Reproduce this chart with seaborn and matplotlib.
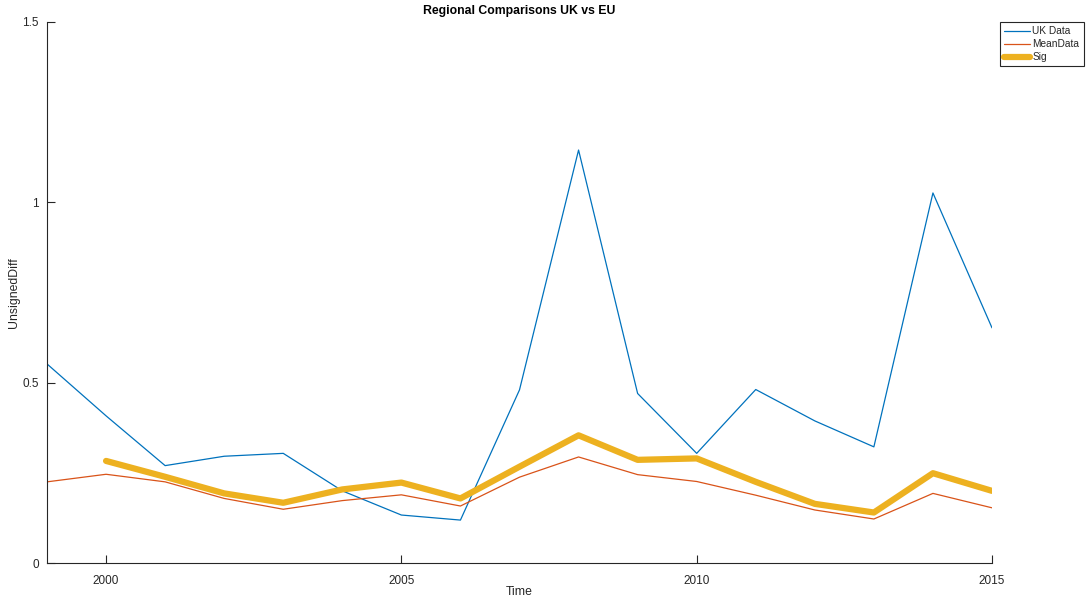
import matplotlib
matplotlib.use("Agg")
import matplotlib.pyplot as plt
import seaborn as sns

years = list(range(1999, 2016))
uk_data = [0.552, 0.408, 0.270, 0.296, 0.304, 0.200, 0.133, 0.119, 0.480,
           1.145, 0.470, 0.304, 0.481, 0.394, 0.322, 1.026, 0.652]
mean_data = [0.225, 0.246, 0.225, 0.179, 0.149, 0.173, 0.189, 0.158, 0.238,
             0.294, 0.245, 0.226, 0.188, 0.147, 0.122, 0.193, 0.153]
sig_years = list(range(2000, 2016))
sig = [0.283, 0.239, 0.193, 0.167, 0.204, 0.223, 0.179, 0.267,
       0.354, 0.286, 0.290, 0.225, 0.164, 0.140, 0.249, 0.200]

x_ticks = [2000, 2005, 2010, 2015]
y_ticks = [0, 0.5, 1, 1.5]
y_tick_labels = ["0", "0.5", "1", "1.5"]

sns.set_style("white")
plt.rcParams["font.family"] = ["Liberation Sans", "DejaVu Sans"]

fig = plt.figure(figsize=(10.88, 6.01), dpi=100)
ax = fig.add_axes([47 / 1088, 38 / 601, 945 / 1088, 541 / 601])

sns.lineplot(x=years, y=uk_data, ax=ax, color="#0072BD", linewidth=0.9, label="UK Data")
sns.lineplot(x=years, y=mean_data, ax=ax, color="#D95319", linewidth=0.9, label="MeanData")
sns.lineplot(x=sig_years, y=sig, ax=ax, color="#EDB120", linewidth=4.5, label="Sig")

ax.set_xlim(1999, 2015)
ax.set_ylim(0, 1.5)
ax.set_xticks(x_ticks)
ax.set_xticklabels([str(t) for t in x_ticks])
ax.set_yticks(y_ticks)
ax.set_yticklabels(y_tick_labels)

for side in ["top", "right"]:
    ax.spines[side].set_visible(False)
for side in ["left", "bottom"]:
    ax.spines[side].set_color("#262626")
    ax.spines[side].set_linewidth(0.8)

ax.tick_params(axis="both", which="major", bottom=True, left=True,
               direction="in", length=6, width=0.8,
               colors="#262626", labelsize=8.5, labelcolor="#262626", pad=6)
ax.tick_params(axis="x", pad=9)

ax.set_title("Regional Comparisons UK vs EU", fontsize=8.8, fontweight="bold",
             color="black", pad=6)
ax.set_xlabel("Time", fontsize=8.8, color="#262626")
ax.xaxis.set_label_coords(0.5, -23 / 541)
ax.set_ylabel("UnsignedDiff", fontsize=8.8, color="#262626")
ax.yaxis.set_label_coords(-27 / 945, 0.5)

leg = ax.legend(loc="upper left", bbox_to_anchor=(1000 / 1088, 1 - 22 / 601),
                bbox_transform=fig.transFigure, fontsize=7.3, frameon=True,
                fancybox=False, framealpha=1, edgecolor="#262626",
                handlelength=2.6, handletextpad=0.2, borderpad=0.4,
                labelspacing=0.3, borderaxespad=0)
leg.get_frame().set_linewidth(0.8)

fig.savefig("out.png", dpi=100)
